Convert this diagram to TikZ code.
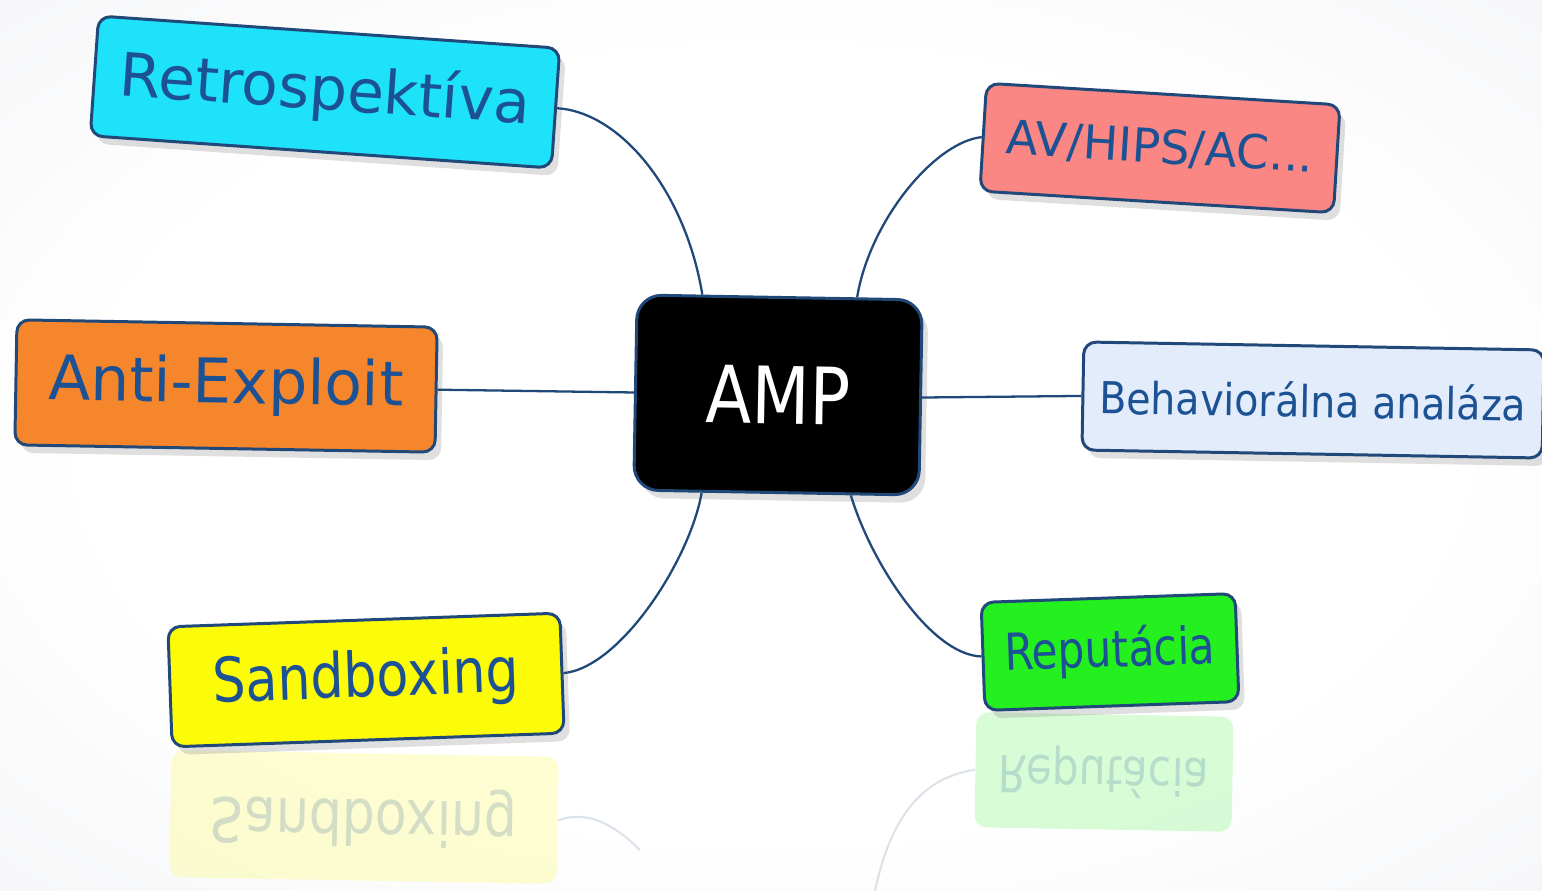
\documentclass[tikz,border=0pt]{standalone}
\usepackage{fontspec}
\setmainfont{DejaVu Sans}
\usepackage{graphicx}
\usetikzlibrary{shadows}
\definecolor{edge}{RGB}{32,72,120}
\definecolor{ink}{RGB}{28,82,148}
\definecolor{bgcol}{RGB}{222,224,230}
\definecolor{cyanbox}{RGB}{30,226,250}
\definecolor{salmonbox}{RGB}{250,135,132}
\definecolor{orangebox}{RGB}{246,134,44}
\definecolor{palebox}{RGB}{226,236,250}
\definecolor{yellowbox}{RGB}{252,252,8}
\definecolor{greenbox}{RGB}{36,240,32}
\newcommand{\sq}[2]{\scalebox{#1}[1]{#2}}
\pgfdeclareradialshading{floor}{\pgfpoint{0bp}{0bp}}{color(0bp)=(white); color(22bp)=(white); color(72bp)=(bgcol)}
\begin{document}
\begin{tikzpicture}[x=0.01cm,y=-0.01cm,
        idea/.style={draw=edge, line width=0.85pt, rounded corners=3.5pt, text=ink, inner sep=0pt, transform shape,
            drop shadow={shadow xshift=0.6mm, shadow yshift=-0.8mm, opacity=0.25}},
        mirror/.style={rounded corners=3.5pt, text=ink, inner sep=0pt, transform shape, yscale=-1, opacity=0.18},
        link/.style={draw=edge, line width=0.65pt},
        ghost/.style={draw=edge, line width=0.6pt, opacity=0.15}]
        \useasboundingbox (0,0) rectangle (1542,891);
        \clip (0,0) rectangle (1542,891);
        \shade[shading=floor] (0,0) rectangle (1542,891);
        \node[mirror, fill=yellowbox, minimum width=3.87cm, minimum height=1.27cm, rotate=1, font=\fontsize{17.5}{20}\selectfont] (sandm) at (364,817) {\sq{.85}{Sandboxing}};
        \node[mirror, fill=greenbox, minimum width=2.57cm, minimum height=1.15cm, rotate=1, font=\fontsize{14.5}{17}\selectfont] (repm) at (1104,772) {\sq{.83}{Reputácia}};
        \coordinate (sandg) at (640,850);
        \coordinate (repg) at (875,891);
        \draw[ghost] (sandm.east) .. controls (590,808) and (620,830) .. (sandg);
        \draw[ghost] (repm.west) .. controls (920,778) and (890,820) .. (repg);
        \node[idea, fill=black, text=white, minimum width=2.85cm, minimum height=1.95cm, rounded corners=7pt, rotate=-1, font=\fontsize{22.5}{26}\selectfont] (amp) at (778,395) {\sq{.85}{AMP}};
        \node[idea, fill=cyanbox, minimum width=4.62cm, minimum height=1.2cm, rotate=-4, font=\fontsize{17}{20}\selectfont] (retro) at (325,92) {Retrospektíva};
        \node[idea, fill=salmonbox, minimum width=3.54cm, minimum height=1.08cm, rotate=-3.5, font=\fontsize{13.3}{16}\selectfont] (av) at (1160,148) {AV/HIPS/AC...};
        \node[idea, fill=orangebox, minimum width=4.2cm, minimum height=1.25cm, rotate=-1, font=\fontsize{17.5}{20}\selectfont] (anti) at (226,386) {Anti-Exploit};
        \node[idea, fill=palebox, minimum width=4.6cm, minimum height=1.08cm, rotate=-1, font=\fontsize{12.5}{15}\selectfont] (beh) at (1313,400) {\sq{.9}{Behaviorálna analáza}};
        \node[idea, fill=yellowbox, minimum width=3.92cm, minimum height=1.2cm, rotate=2, font=\fontsize{17.5}{20}\selectfont] (sand) at (366,680) {\sq{.85}{Sandboxing}};
        \node[idea, fill=greenbox, minimum width=2.54cm, minimum height=1.08cm, rotate=2, font=\fontsize{14.5}{17}\selectfont] (rep) at (1110,652) {\sq{.83}{Reputácia}};
        \draw[link] (retro.east) .. controls (620,112) and (685,190) .. (amp.128);
        \draw[link] (av.west) .. controls (935,142) and (870,220) .. (amp.52);
        \draw[link] (anti.east) -- (amp.west);
        \draw[link] (amp.east) -- (beh.west);
        \draw[link] (sand.east) .. controls (620,668) and (690,560) .. (amp.233);
        \draw[link] (rep.west) .. controls (930,655) and (870,560) .. (amp.307);
    \end{tikzpicture}
\end{document}
